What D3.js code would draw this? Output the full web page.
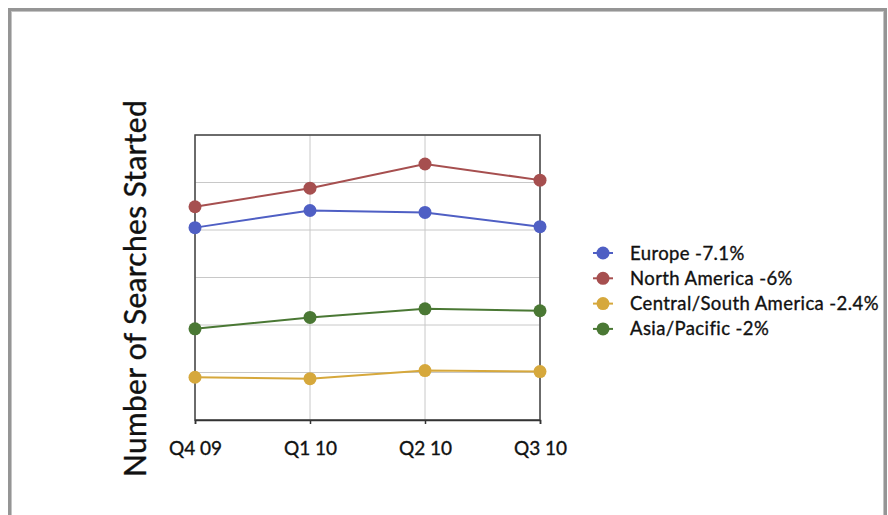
<!DOCTYPE html>
<html>
<head>
<meta charset="utf-8">
<script src="https://cdn.jsdelivr.net/npm/d3@7"></script>
<style>
  html, body { margin: 0; padding: 0; background: #fff; }
  svg { display: block; }
  text { font-family: Lato, "Open Sans", sans-serif; fill: #111; stroke: #111; stroke-width: 0.35px; }
</style>
</head>
<body>
<svg id="chart" width="888" height="515"></svg>
<script>
// Quarterly searches started, by region (relative units, one grid step = 1)
const quarters = ["Q4 09", "Q1 10", "Q2 10", "Q3 10"];
const seriesNames = ["Europe -7.1%", "North America -6%", "Central/South America -2.4%", "Asia/Pacific -2%"];
const europe = [4.05, 4.41, 4.37, 4.07];
const northAmerica = [4.49, 4.88, 5.39, 5.05];
const centralSouthAmerica = [0.90, 0.87, 1.04, 1.02];
const asiaPacific = [1.92, 2.16, 2.34, 2.30];
const seriesColors = ["#4f5fc4", "#a64f4f", "#d6a83c", "#4a7834"];
const yTicks = [0, 1, 2, 3, 4, 5, 6];

const series = [europe, northAmerica, centralSouthAmerica, asiaPacific].map((vals, i) => ({
  name: seriesNames[i], color: seriesColors[i], values: vals
}));

const svg = d3.select("#chart");

// outer frame (darker outer edge, lighter inner edge)
svg.append("rect")
  .attr("x", 9.5).attr("y", 9.5).attr("width", 876).attr("height", 530)
  .attr("fill", "none").attr("stroke", "#959595").attr("stroke-width", 3);
svg.append("rect")
  .attr("x", 11.5).attr("y", 11.5).attr("width", 872).attr("height", 530)
  .attr("fill", "none").attr("stroke", "#c4c4c4").attr("stroke-width", 1);

const plot = { left: 195, right: 540, top: 135, bottom: 420 };

const x = d3.scalePoint().domain(quarters).range([plot.left, plot.right]);
const y = d3.scaleLinear().domain([0, 6]).range([plot.bottom, plot.top]);

// grid
const grid = svg.append("g");
grid.selectAll("line.h").data(yTicks).join("line")
  .attr("x1", plot.left).attr("x2", plot.right)
  .attr("y1", d => y(d)).attr("y2", d => y(d))
  .attr("stroke", "#c8c8c8").attr("stroke-width", 1);
grid.selectAll("line.v").data(quarters).join("line")
  .attr("x1", d => x(d)).attr("x2", d => x(d))
  .attr("y1", plot.top).attr("y2", plot.bottom)
  .attr("stroke", "#c8c8c8").attr("stroke-width", 1);

// plot frame
svg.append("rect")
  .attr("x", plot.left).attr("y", plot.top)
  .attr("width", plot.right - plot.left).attr("height", plot.bottom - plot.top)
  .attr("fill", "none").attr("stroke", "#444").attr("stroke-width", 1.5);

// x axis
const xAxis = svg.append("g")
  .attr("transform", `translate(0,${plot.bottom})`)
  .call(d3.axisBottom(x).tickSize(4).tickPadding(18));
xAxis.select(".domain").attr("stroke", "#333").attr("stroke-width", 1.5);
xAxis.selectAll(".tick line").attr("stroke", "#333").attr("stroke-width", 1.5);
xAxis.selectAll(".tick text")
  .style("font-family", "Lato, 'Open Sans', sans-serif")
  .style("font-size", "19px").attr("fill", "#111");

// y axis title
svg.append("text")
  .attr("transform", `translate(146,${(plot.top + plot.bottom) / 2 + 11}) rotate(-90)`)
  .attr("text-anchor", "middle")
  .style("font-size", "30px")
  .style("letter-spacing", "0.3px")
  .text("Number of Searches Started");

// lines and markers
const line = d3.line().x((d, i) => x(quarters[i])).y(d => y(d));
const groups = svg.append("g").selectAll("g").data(series).join("g");
groups.append("path")
  .attr("d", d => line(d.values))
  .attr("fill", "none").attr("stroke", d => d.color).attr("stroke-width", 2);
groups.selectAll("circle").data(d => d.values.map(v => ({ v, c: d.color }))).join("circle")
  .attr("cx", (d, i) => x(quarters[i])).attr("cy", d => y(d.v))
  .attr("r", 6.5).attr("fill", d => d.c);

// legend
const legend = svg.append("g").attr("transform", "translate(603,253)");
const items = legend.selectAll("g").data(series).join("g")
  .attr("transform", (d, i) => `translate(0,${i * 25.3})`);
items.append("line")
  .attr("x1", -10).attr("x2", 10).attr("y1", 0).attr("y2", 0)
  .attr("stroke", d => d.color).attr("stroke-width", 2);
items.append("circle").attr("r", 6.5).attr("fill", d => d.color);
items.append("text")
  .attr("x", 27).attr("y", 6.5)
  .style("font-size", "18.5px")
  .style("letter-spacing", "0.4px")
  .text(d => d.name);
</script>
</body>
</html>
